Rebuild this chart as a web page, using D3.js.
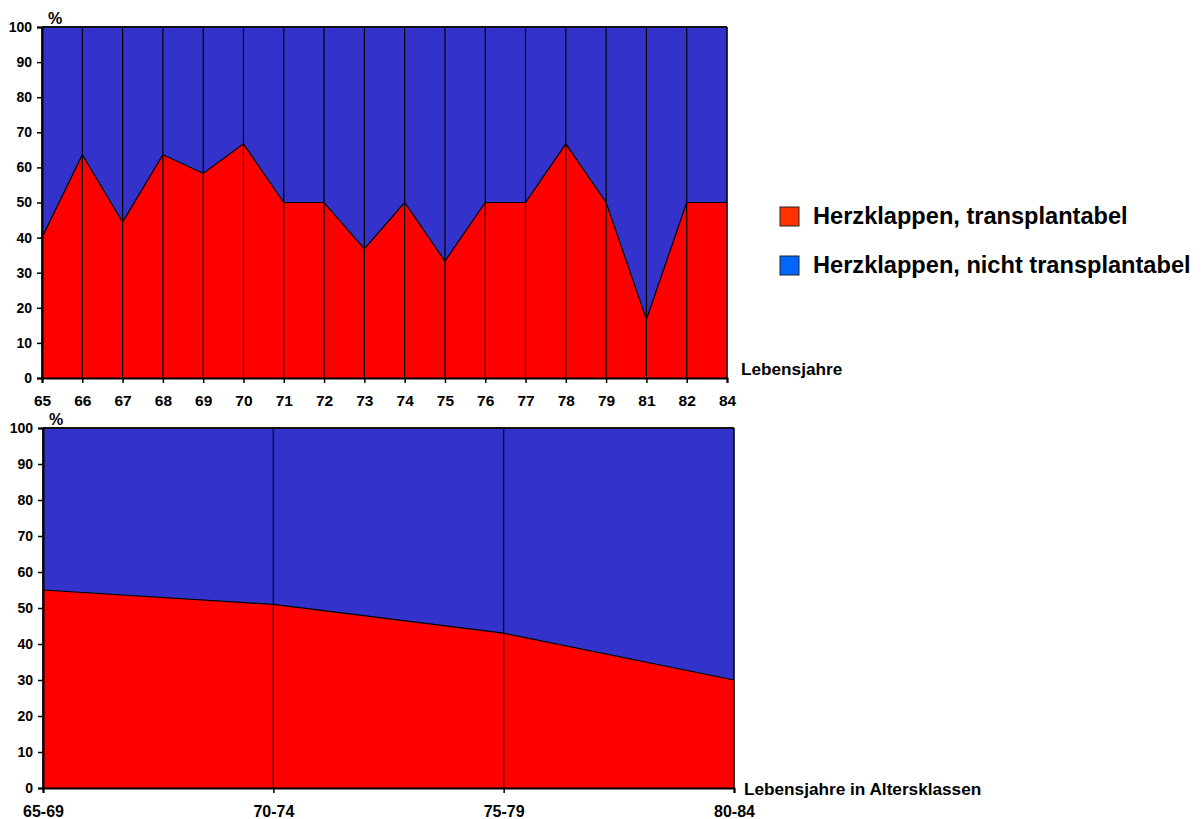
<!DOCTYPE html>
<html>
<head>
<meta charset="utf-8">
<script src="https://cdn.jsdelivr.net/npm/d3@7"></script>
<style>
  body { margin: 0; background: #fff; }
  svg text { font-family: "Liberation Sans", Arial, sans-serif; font-weight: bold; fill: #000; }
</style>
</head>
<body>
<div id="chart"></div>
<script>
// data
const yearLabels = ['65', '66', '67', '68', '69', '70', '71', '72', '73', '74', '75', '76', '77', '78', '79', '81', '82', '84'];
const yearTransplantable = [40, 63.6, 44.4, 63.6, 58.3, 66.7, 50, 50, 36.8, 50, 33.3, 50, 50, 66.7, 50, 16.7, 50, 50];
const classLabels = ['65-69', '70-74', '75-79', '80-84'];
const classTransplantable = [55, 51, 43, 30];
const yTicks = [0, 10, 20, 30, 40, 50, 60, 70, 80, 90, 100];
const legendLabels = ['Herzklappen, transplantabel', 'Herzklappen, nicht transplantabel'];
const legendColors = ['#ff3300', '#0066ff'];

const RED = '#ff0000', BLUE = '#3333cc';

const svg = d3.select('#chart').append('svg')
    .attr('width', 1202)
    .attr('height', 819);

function drawPanel(p) {
    const x = d3.scalePoint().domain(p.labels).range([p.left, p.right]).padding(0);
    const y = d3.scaleLinear().domain([0, 100]).range([p.bottom, p.top]);
    const g = svg.append('g');
    const data = p.labels.map((l, i) => ({ label: l, value: p.values[i] }));

    // blue background (nicht transplantabel)
    g.append('path')
        .datum(data)
        .attr('fill', BLUE)
        .attr('stroke', '#111')
        .attr('stroke-width', 1)
        .attr('d', d3.area().x(d => x(d.label)).y0(y(0)).y1(y(100)));

    // red area (transplantabel)
    g.append('path')
        .datum(data)
        .attr('fill', RED)
        .attr('d', d3.area().x(d => x(d.label)).y0(y(0)).y1(d => y(d.value)));

    g.append('path')
        .datum(data)
        .attr('fill', 'none')
        .attr('stroke', '#000')
        .attr('stroke-width', 1.2)
        .attr('d', d3.line().x(d => x(d.label)).y(d => y(d.value)));

    // vertical drop lines
    g.selectAll('.drop')
        .data(p.labels)
        .enter().append('line')
        .attr('class', 'drop')
        .attr('x1', d => x(d)).attr('x2', d => x(d))
        .attr('y1', y(0)).attr('y2', y(100))
        .attr('stroke', '#000')
        .attr('stroke-width', 1.2);

    // top border
    g.append('line')
        .attr('x1', p.left).attr('x2', p.right)
        .attr('y1', y(100)).attr('y2', y(100))
        .attr('stroke', '#111').attr('stroke-width', 2);

    // y axis
    const ya = g.append('g')
        .attr('transform', `translate(${p.left},0)`)
        .call(d3.axisLeft(y).tickValues(yTicks).tickSize(5).tickPadding(5).tickFormat(d3.format('d')));
    ya.select('.domain').attr('stroke', '#000').attr('stroke-width', 2);
    ya.selectAll('.tick line').attr('stroke', '#000').attr('stroke-width', 1.5);
    ya.selectAll('text').style('font-size', '14px').attr('fill', '#111');

    // x axis
    const xa = g.append('g')
        .attr('transform', `translate(0,${p.bottom})`)
        .call(d3.axisBottom(x).tickSize(5).tickPadding(0));
    xa.select('.domain').attr('stroke', '#000').attr('stroke-width', 2);
    xa.selectAll('.tick line').attr('stroke', '#000').attr('stroke-width', 1.5);
    xa.selectAll('text')
        .style('font-size', p.xFont + 'px')
        .attr('y', p.xLabelY)
        .attr('dy', 0)
        .attr('fill', '#111');

    g.append('text')
        .attr('x', p.left + 6).attr('y', p.top - 3)
        .style('font-size', '16px')
        .text('%');

    g.append('text')
        .attr('x', p.titleX).attr('y', p.titleY)
        .style('font-size', p.titleFont + 'px')
        .text(p.title);
}

drawPanel({
    labels: yearLabels, values: yearTransplantable,
    left: 42, right: 727, top: 27, bottom: 378,
    xFont: 15.5, xLabelY: 28,
    title: 'Lebensjahre', titleX: 741, titleY: 375, titleFont: 17.2
});

drawPanel({
    labels: classLabels, values: classTransplantable,
    left: 43, right: 734, top: 428, bottom: 788,
    xFont: 16, xLabelY: 29,
    title: 'Lebensjahre in Altersklassen', titleX: 744, titleY: 795, titleFont: 17.2
});

// legend
const legend = svg.append('g').attr('transform', 'translate(780,207)');
const items = legend.selectAll('g')
    .data(legendLabels)
    .enter().append('g')
    .attr('transform', (d, i) => `translate(0,${i * 49})`);
items.append('rect')
    .attr('width', 19).attr('height', 19)
    .attr('fill', (d, i) => legendColors[i])
    .attr('stroke', '#222').attr('stroke-width', 1);
items.append('text')
    .attr('x', 33).attr('y', 17)
    .style('font-size', '23.6px')
    .text(d => d);
</script>
</body>
</html>
